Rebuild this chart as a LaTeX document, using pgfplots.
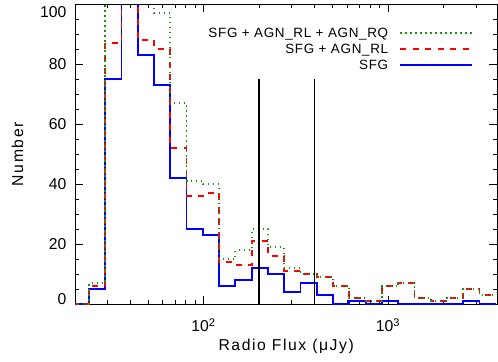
\documentclass[border=0pt]{standalone}
\usepackage{fontspec}
\setmainfont{Liberation Sans}
\newfontfamily\labfont{Liberation Sans}[LetterSpace=10]
\newfontfamily\legfont{Liberation Sans}[LetterSpace=5]
\usepackage{pgfplots}
\usepackage{pgfplotstable}
\pgfplotsset{compat=1.18}
\definecolor{hgreen}{RGB}{20,150,20}
% left bin edges (flux, uJy) and counts
\pgfplotstableread{
x      sfg  rl   rq
19.50  0    0    0
23.90  5    6    7
29.29  75   87   120
35.89  120  120  120
43.99  83   88   120
53.88  73   85   97
66.03  42   52   67
80.91  25   36   41
99.13  23   37   40
121.5  6    14   15
148.8  8    13   18
182.4  12   21   25
223.5  10   16   19
273.8  4    11   12
335.6  7    10   10
411.1  3    9    9
503.8  0    6    6
617.4  1    2    2
756.6  0    1    1
927.1  1    6    6
1136   0    7    7
1392   0    2    2
1706   0    1    1
2090   0    2    2
2561   1    5    5
3138   0    3    3
3846   0    3    3
}\hist
\begin{document}
\begin{tikzpicture}[x=1bp,y=1bp]
\begin{axis}[
  at={(0,0)}, anchor=south west,
  scale only axis, width=421.6bp, height=300bp,
  xmode=log, xmin=20.2, xmax=3900, ymin=0, ymax=100,
  xtick={100,1000}, xticklabels={10\textsuperscript{2},10\textsuperscript{3}},
  minor xtick={20,30,40,50,60,70,80,90,200,300,400,500,600,700,800,900,2000,3000},
  ytick={0,20,40,60,80,100},
  yticklabels={\raisebox{5.3bp}[\height][\depth]{0},20,40,60,80,\raisebox{-7.4bp}[\height][\depth]{100}},
  minor y tick num=3,
  tick align=inside, major tick length=8bp, minor tick length=4bp,
  tick style={black, line width=0.6bp},
  axis line style={black, line width=0.8bp},
  /pgf/number format/assume math mode=true,
  tick label style={font=\fontsize{15.8}{18}\selectfont},
  xticklabel style={anchor=center, yshift=-21bp},
  yticklabel style={anchor=east, inner sep=0pt, xshift=-8.7bp},
  label style={font=\labfont\fontsize{15.8}{18}\selectfont},
  xlabel={Radio Flux (μJy)}, ylabel={Number},
  xlabel style={at={(axis description cs:0.5,0)}, anchor=center, yshift=-42.5bp},
  ylabel style={at={(axis description cs:0,0.5)}, anchor=center, rotate=0, yshift=57.9bp},
  legend style={draw=none, fill=none, inner sep=0pt, outer sep=0pt,
    at={(0.943,0.922)}, anchor=north east, row sep=6bp, column sep=0pt,
    font=\legfont\fontsize{13.5}{16}\selectfont, cells={anchor=east},
    nodes={inner sep=0pt, text height=10bp, text depth=0bp}},
  legend plot pos=right,
  legend image code/.code={\path (0bp,0bp); \draw[#1] (11bp,0bp) -- (83bp,0bp);},
  reverse legend,
]
\addplot[const plot, blue, line width=1.8bp] table[x=x, y=sfg]{\hist};
\addlegendentry{SFG}
\addplot[const plot, red, line width=1.8bp, dash pattern=on 6bp off 6.5bp] table[x=x, y=rl]{\hist};
\addlegendentry{SFG + AGN\_RL}
\addplot[const plot, hgreen, line width=1.8bp, dash pattern=on 1.5bp off 3.5bp] table[x=x, y=rq]{\hist};
\addlegendentry{SFG + AGN\_RL + AGN\_RQ}
\addplot[black, line width=1.5bp, forget plot] coordinates {(200,0) (200,75)};
\addplot[black, line width=1.5bp, forget plot] coordinates {(400,0) (400,75)};
\end{axis}
\pgfresetboundingbox
\path (-75.4bp,-57.7bp) rectangle (422.6bp,304.3bp);
\end{tikzpicture}
\end{document}
